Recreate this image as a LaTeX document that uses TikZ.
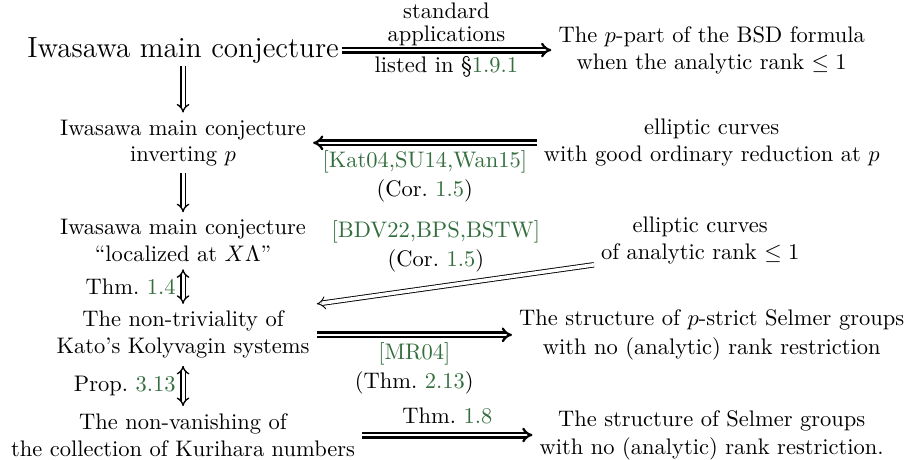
\documentclass[tikz,border=0pt]{standalone}
\usepackage{amssymb}
\usetikzlibrary{arrows.meta}

\definecolor{refgreen}{RGB}{52,110,62}
\newcommand{\rf}[1]{\textcolor{refgreen}{#1}}

\begin{document}
\begin{tikzpicture}
    \tikzstyle{every node} = [inner sep=3pt]
    \tikzstyle{lab} = [inner sep=1.5pt]
    \tikzstyle{imp} = [double, double distance=1.1pt, line width=1pt, -{Implies}]
    \tikzstyle{vimp} = [double, double distance=1.3pt, line width=0.6pt, -{Implies}]
    \tikzstyle{dimp} = [double, double distance=1.3pt, line width=0.6pt, {Implies}-{Implies}]
    \tikzstyle{thinimp} = [double, double distance=1.6pt, line width=0.4pt, -{Implies}]
    \useasboundingbox (0, 0) rectangle (14.156, 7.172);
    % left column
    \node [inner sep=1pt] (main) at (2.86, 6.39) {\fontsize{12.95}{15}\selectfont Iwasawa main conjecture};
    \node (inv) at (2.86, 4.94) {\shortstack{Iwasawa main conjecture\\inverting $p$}};
    \node (loc) at (2.86, 3.41) {\shortstack{Iwasawa main conjecture\\``localized at $X\Lambda$''}};
    \node (kato) at (2.86, 1.94) {\shortstack{The non-triviality of\\Kato's Kolyvagin systems}};
    \node (kuri) at (2.86, 0.375) {\shortstack{The non-vanishing of\\the collection of Kurihara numbers}};
    % right column
    \node (bsd) at (11.12, 6.39) {\shortstack{The $p$-part of the BSD formula\\when the analytic rank $\leq 1$}};
    \node (good) at (11.12, 4.94) {\shortstack{elliptic curves\\with good ordinary reduction at $p$}};
    \node (rank) at (10.94, 3.41) {\shortstack{elliptic curves\\of analytic rank $\leq 1$}};
    \node (strict) at (11.12, 1.94) {\shortstack{The structure of $p$-strict Selmer groups\\with no (analytic) rank restriction}};
    \node (sel) at (11.12, 0.375) {\shortstack{The structure of Selmer groups\\with no (analytic) rank restriction.}};
    % implications
    \draw [imp] (main) -- (bsd)
        node [lab, inner sep=1pt, midway, above=0.5pt] {\shortstack{standard\\applications}}
        node [lab, midway, below=1pt] {listed in \S\rf{1.9.1}};
    \draw [vimp] (main) -- (inv);
    \draw [imp] (good) -- (inv)
        node [lab, midway, below=1.5pt] {\shortstack{\rf{[Kat04,SU14,Wan15]}\\(Cor.~\rf{1.5})}};
    \draw [vimp] (inv) -- (loc);
    \draw [dimp] (loc) -- (kato) node [midway, left] {Thm.~\rf{1.4}};
    \draw [thinimp] ([yshift=3pt]rank.south west) -- (kato.north east)
        node [lab, pos=0.57, above=5pt] {\shortstack{\rf{[BDV22,BPS,BSTW]}\\(Cor.~\rf{1.5})}};
    \draw [imp] (kato) -- (strict)
        node [lab, midway, below=1.5pt] {\shortstack{\rf{[MR04]}\\(Thm.~\rf{2.13})}};
    \draw [dimp] (kato) -- (kuri) node [midway, left] {Prop.~\rf{3.13}};
    \draw [imp] (kuri) -- (sel) node [lab, midway, above=3pt] {Thm.~\rf{1.8}};
\end{tikzpicture}
\end{document}
